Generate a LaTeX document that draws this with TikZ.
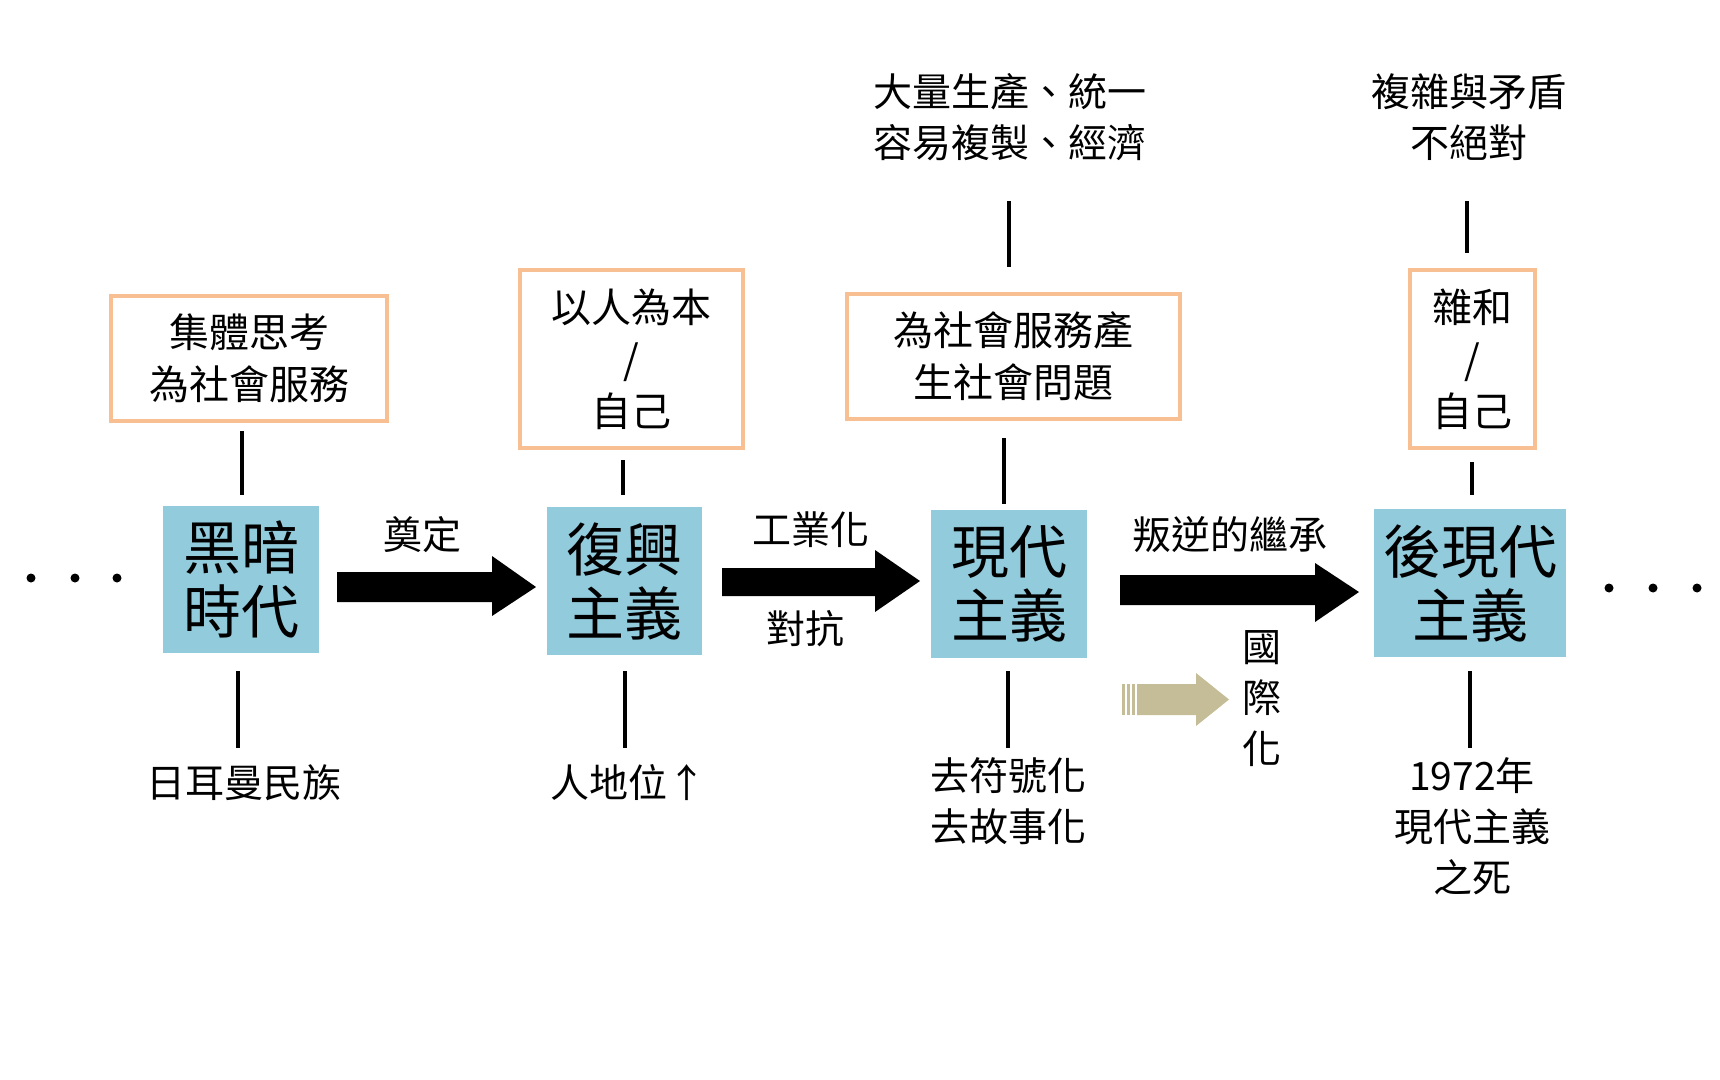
\documentclass[tikz,border=0pt]{standalone}
\usepackage{fontspec}
\setmainfont{Noto Sans CJK TC}
\definecolor{boxblue}{RGB}{146,203,220}
\definecolor{boxorange}{RGB}{248,192,146}
\definecolor{tan}{RGB}{196,189,151}
\begin{document}
\begin{tikzpicture}[x=1pt,y=-1pt,
  era/.style={fill=boxblue,inner sep=0,font=\fontsize{58}{64}\selectfont,align=center},
  idea/.style={draw=boxorange,line width=4.5pt,inner sep=0,font=\fontsize{40}{52}\selectfont,align=center},
  lbl/.style={font=\fontsize{39}{51}\selectfont,align=center,inner sep=0},
  tick/.style={line width=4.5pt},
  dot/.style={circle,fill=black,inner sep=0,minimum size=9pt}]
\useasboundingbox (0,0) rectangle (1720,1079);
% era boxes
\node[era,minimum width=156pt,minimum height=147pt] (e1) at (241,579.5) {黑暗\\時代};
\node[era,minimum width=155pt,minimum height=148pt] (e2) at (624.5,581) {復興\\主義};
\node[era,minimum width=156pt,minimum height=148pt] (e3) at (1009,584) {現代\\主義};
\node[era,minimum width=192pt,minimum height=148pt] (e4) at (1470,583) {後現代\\主義};
% idea boxes
\node[idea,minimum width=276pt,minimum height=125pt] (i1) at (249,358.5) {集體思考\\為社會服務};
\node[idea,minimum width=223pt,minimum height=178pt] (i2) at (631.5,359) {以人為本\\/\\自己};
\node[idea,minimum width=333pt,minimum height=125pt] (i3) at (1013.5,356.5) {為社會服務產\\生社會問題};
\node[idea,minimum width=125pt,minimum height=178pt] (i4) at (1472.5,359) {雜和\\/\\自己};
% labels
\node[lbl] (b1) at (244,783) {日耳曼民族};
\node[lbl] (b2) at (628,783) {人地位↑};
\node[lbl,anchor=north] (b3) at (1008,757) {去符號化\\去故事化};
\node[lbl,anchor=north] (b4) at (1472,757) {1972年\\現代主義\\之死};
\node[lbl,anchor=north] (t3) at (1010,73) {大量生產、統一\\容易複製、經濟};
\node[lbl,anchor=north] (t4) at (1469,73) {複雜與矛盾\\不絕對};
\node[lbl] (a1) at (422,535) {奠定};
\node[lbl] (a2a) at (811,530) {工業化};
\node[lbl] (a2b) at (805,629) {對抗};
\node[lbl] (a3) at (1230,535) {叛逆的繼承};
\node[lbl] (intl) at (1262,699) {國\\際\\化};
% ticks
\draw[tick] (242,431) -- (242,495);
\draw[tick] (238,671) -- (238,748);
\draw[tick] (623,460) -- (623,495);
\draw[tick] (625,671) -- (625,748);
\draw[tick] (1004,438) -- (1004,504);
\draw[tick] (1009,201) -- (1009,267);
\draw[tick] (1008,671) -- (1008,748);
\draw[tick] (1467,201) -- (1467,253);
\draw[tick] (1472,462) -- (1472,495);
\draw[tick] (1470,671) -- (1470,748);
% block arrows
\fill (337,572) -- (492,572) -- (492,556) -- (536,587) -- (492,616) -- (492,602) -- (337,602) -- cycle;
\fill (722,568) -- (875,568) -- (875,550) -- (920,581) -- (875,612) -- (875,596) -- (722,596) -- cycle;
\fill (1120,575) -- (1315,575) -- (1315,563) -- (1359,592) -- (1315,622) -- (1315,605) -- (1120,605) -- cycle;
\fill[tan] (1137,684) -- (1196,684) -- (1196,673) -- (1229,699.5) -- (1196,726) -- (1196,715) -- (1137,715) -- cycle;
\foreach \x in {1122,1127,1132} \fill[tan] (\x,684) rectangle (\x+3,715);
% dots
\foreach \x/\n in {31/d1,75/d2,117/d3} \node[dot] (\n) at (\x,578) {};
\foreach \x/\n in {1609/d4,1653/d5,1697/d6} \node[dot] (\n) at (\x,588) {};
\end{tikzpicture}
\end{document}
